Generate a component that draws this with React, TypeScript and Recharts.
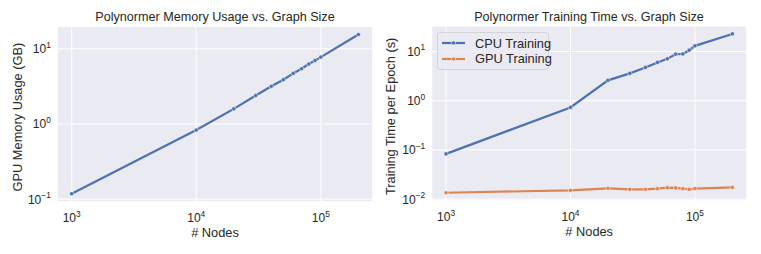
import { CartesianGrid, Legend, Line, LineChart, XAxis, YAxis } from "recharts";

const nodes = [1000, 10000, 20000, 30000, 40000, 50000, 60000, 70000, 80000, 90000, 100000, 200000];
const memoryGb = [0.118, 0.83, 1.59, 2.39, 3.17, 3.88, 4.71, 5.43, 6.27, 7.0, 7.76, 15.5];
const cpuTime = [0.083, 0.73, 2.59, 3.59, 4.74, 5.98, 7.08, 8.8, 8.9, 10.6, 13.0, 22.7];
const gpuTime = [0.0135, 0.0151, 0.0166, 0.0158, 0.0158, 0.0163, 0.0171, 0.0169, 0.0163, 0.0158, 0.0163, 0.0173];

const xTicks = [1e3, 1e4, 1e5];
const memTicks = [0.1, 1, 10];
const timeTicks = [0.01, 0.1, 1, 10];

const BLUE = "#4C72B0";
const ORANGE = "#DD8452";
const TEXT = "#262626";
const FONT = '"Liberation Sans", Arial, sans-serif';

const memData = nodes.map((n, i) => ({ n, mem: memoryGb[i] }));
const timeData = nodes.map((n, i) => ({ n, cpu: cpuTime[i], gpu: gpuTime[i] }));

function expLabel(v: number) {
  const e = Math.round(Math.log10(v));
  return e < 0 ? `\u2212${-e}` : `${e}`;
}

const XTick = ({ x, y, payload }: any) => (
  <text x={x} y={y + 20.5} textAnchor="middle" fontSize={12} fill={TEXT} fontFamily={FONT}>
    10
    <tspan dy={-5.5} fontSize={8.4}>
      {expLabel(payload.value)}
    </tspan>
  </text>
);

const YTick = ({ x, y, payload }: any) => (
  <text x={x - 6.5} y={y + 4.5} textAnchor="end" fontSize={12} fill={TEXT} fontFamily={FONT}>
    10
    <tspan dy={-5.5} fontSize={8.4}>
      {expLabel(payload.value)}
    </tspan>
  </text>
);

const xLabel = ({ viewBox }: any) => (
  <text
    x={viewBox.x + viewBox.width / 2}
    y={viewBox.y + 35}
    textAnchor="middle"
    fontSize={12.8}
    fill={TEXT}
    fontFamily={FONT}
  >
    # Nodes
  </text>
);

const yLabel = (text: string, bx: number) => ({ viewBox }: any) => (
  <text
    transform={`translate(${bx}, ${viewBox.y + viewBox.height / 2 + 3}) rotate(-90)`}
    textAnchor="middle"
    fontSize={12.8}
    fill={TEXT}
    fontFamily={FONT}
  >
    {text}
  </text>
);

const dot = (color: string) => ({ r: 2.1, fill: color, stroke: "#fff", strokeWidth: 0.5 });

function LegendBox() {
  const items = [
    { name: "CPU Training", color: BLUE },
    { name: "GPU Training", color: ORANGE },
  ];
  return (
    <div
      style={{
        width: 110,
        height: 36,
        border: "1px solid #D4D4D8",
        borderRadius: 3,
        background: "rgba(234,234,242,0.8)",
        position: "relative",
        fontFamily: FONT,
      }}
    >
      {items.map((it, i) => (
        <div key={it.name} style={{ position: "absolute", left: 4, top: 2 + i * 15.6, height: 16, display: "flex", alignItems: "center" }}>
          <svg width={23} height={16}>
            <line x1={0} y1={8} x2={23} y2={8} stroke={it.color} strokeWidth={2.2} />
            <circle cx={11.5} cy={8} r={2.1} fill={it.color} stroke="#fff" strokeWidth={0.5} />
          </svg>
          <span style={{ marginLeft: 10, fontSize: 12.8, color: TEXT, whiteSpace: "nowrap" }}>{it.name}</span>
        </div>
      ))}
    </div>
  );
}

const titleStyle = (cx: number): React.CSSProperties => ({
  position: "absolute",
  left: cx - 150,
  width: 300,
  top: 10,
  textAlign: "center",
  fontSize: 12.6,
  lineHeight: "15px",
  color: TEXT,
  fontFamily: FONT,
  whiteSpace: "nowrap",
});

export default function App() {
  return (
    <div style={{ position: "absolute", left: 0, top: 0, width: 761, height: 254, background: "#fff" }}>
      <div style={{ position: "absolute", left: 0, top: 0 }}>
        <LineChart width={380} height={254} data={memData} margin={{ top: 26.5, right: 7.3, bottom: 22.3, left: 0 }}>
          <CartesianGrid fill="#EAEAF2" fillOpacity={1} stroke="#fff" strokeWidth={1} />
          <XAxis
            dataKey="n"
            type="number"
            scale="log"
            domain={[767, 260600]}
            allowDataOverflow
            ticks={xTicks}
            axisLine={false}
            tickLine={false}
            tickSize={0}
            tickMargin={0}
            height={30}
            tick={XTick}
            label={{ content: xLabel }}
          />
          <YAxis
            type="number"
            scale="log"
            domain={[0.0925, 19.8]}
            allowDataOverflow
            ticks={memTicks}
            axisLine={false}
            tickLine={false}
            tickSize={0}
            tickMargin={0}
            width={57.3}
            tick={YTick}
            label={{ content: yLabel("GPU Memory Usage (GB)", 22) }}
          />
          <Line
            type="linear"
            dataKey="mem"
            stroke={BLUE}
            strokeWidth={2.2}
            dot={dot(BLUE)}
            activeDot={false}
            isAnimationActive={false}
          />
        </LineChart>
      </div>
      <div style={titleStyle(215)}>Polynormer Memory Usage vs. Graph Size</div>

      <div style={{ position: "absolute", left: 380, top: 0 }}>
        <LineChart width={381} height={254} data={timeData} margin={{ top: 26, right: 14.3, bottom: 23.3, left: 0 }}>
          <CartesianGrid fill="#EAEAF2" fillOpacity={1} stroke="#fff" strokeWidth={1} />
          <XAxis
            dataKey="n"
            type="number"
            scale="log"
            domain={[767, 260600]}
            allowDataOverflow
            ticks={xTicks}
            axisLine={false}
            tickLine={false}
            tickSize={0}
            tickMargin={0}
            height={30}
            tick={XTick}
            label={{ content: xLabel }}
          />
          <YAxis
            type="number"
            scale="log"
            domain={[0.0093, 32.9]}
            allowDataOverflow
            ticks={timeTicks}
            axisLine={false}
            tickLine={false}
            tickSize={0}
            tickMargin={0}
            width={51.7}
            tick={YTick}
            label={{ content: yLabel("Training Time per Epoch (s)", 15) }}
          />
          <Legend
            layout="horizontal"
            verticalAlign="middle"
            align="center"
            wrapperStyle={{ position: "absolute", left: 57, top: 32, width: "auto", height: "auto" }}
            content={() => <LegendBox />}
          />
          <Line
            type="linear"
            dataKey="cpu"
            name="CPU Training"
            stroke={BLUE}
            strokeWidth={2.2}
            dot={dot(BLUE)}
            activeDot={false}
            isAnimationActive={false}
          />
          <Line
            type="linear"
            dataKey="gpu"
            name="GPU Training"
            stroke={ORANGE}
            strokeWidth={2.2}
            dot={dot(ORANGE)}
            activeDot={false}
            isAnimationActive={false}
          />
        </LineChart>
      </div>
      <div style={titleStyle(589)}>Polynormer Training Time vs. Graph Size</div>
    </div>
  );
}
